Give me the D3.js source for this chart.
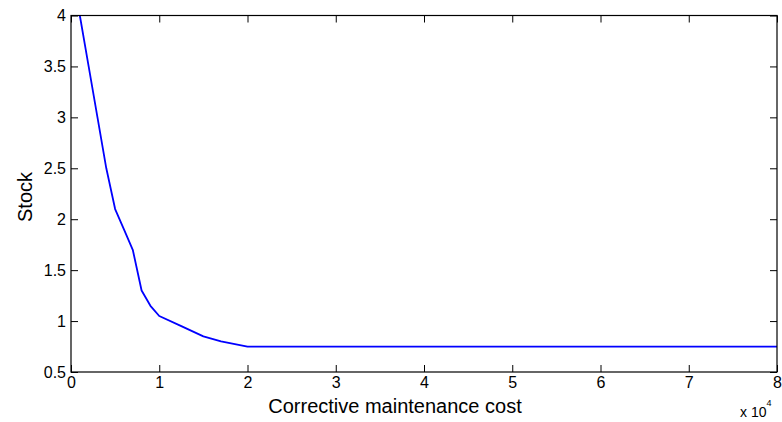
<!DOCTYPE html>
<html>
<head>
<meta charset="utf-8">
<script src="https://cdn.jsdelivr.net/npm/d3@7"></script>
<style>
  html, body { margin: 0; padding: 0; background: #fff; }
  svg { display: block; font-family: "Liberation Sans", Arial, sans-serif; }
</style>
</head>
<body>
<svg id="chart" width="782" height="422"></svg>
<script>
// Data (x in units of 10^4)
const costValues = [0.1, 0.2, 0.3, 0.4, 0.5, 0.6, 0.7, 0.8, 0.9, 1.0, 1.25, 1.5, 1.7, 2.0, 3, 4, 5, 6, 7, 8];
const stockValues = [4.0, 3.5, 3.0, 2.5, 2.1, 1.9, 1.7, 1.3, 1.15, 1.05, 0.95, 0.85, 0.8, 0.75, 0.75, 0.75, 0.75, 0.75, 0.75, 0.75];
const xTicks = [0, 1, 2, 3, 4, 5, 6, 7, 8];
const yTicks = [0.5, 1, 1.5, 2, 2.5, 3, 3.5, 4];
const xLabel = "Corrective maintenance cost";
const yLabel = "Stock";

const svg = d3.select("#chart");
const mLeft = 71, mRight = 777, mTop = 15.5, mBottom = 372;

const x = d3.scaleLinear().domain([0, 8]).range([mLeft, mRight]);
const y = d3.scaleLinear().domain([0.5, 4]).range([mBottom, mTop]);

const tickLen = 7;
const fmt = d => String(d);

svg.append("clipPath").attr("id", "clip")
  .append("rect").attr("x", mLeft).attr("y", mTop).attr("width", mRight - mLeft).attr("height", mBottom - mTop);

const data = costValues.map((c, i) => [c, stockValues[i]]);
svg.append("path")
  .datum(data)
  .attr("clip-path", "url(#clip)")
  .attr("fill", "none")
  .attr("stroke", "#0000ff")
  .attr("stroke-width", 1.8)
  .attr("stroke-linejoin", "round")
  .attr("d", d3.line().x(d => x(d[0])).y(d => y(d[1])));

const styleAxis = g => {
  g.select(".domain").remove();
  g.selectAll(".tick line").attr("stroke", "#000").attr("stroke-width", 1);
  g.selectAll(".tick text").attr("fill", "#000").attr("font-size", 16)
    .attr("font-family", "Liberation Sans, Arial, sans-serif");
};

svg.append("g").attr("transform", `translate(0,${mBottom})`)
  .call(d3.axisBottom(x).tickValues(xTicks).tickFormat(fmt).tickSizeInner(-tickLen).tickSizeOuter(0).tickPadding(5))
  .call(styleAxis);
svg.append("g").attr("transform", `translate(0,${mTop})`)
  .call(d3.axisTop(x).tickValues(xTicks).tickFormat("").tickSizeInner(-tickLen).tickSizeOuter(0))
  .call(styleAxis);
svg.append("g").attr("transform", `translate(${mLeft},0)`)
  .call(d3.axisLeft(y).tickValues(yTicks).tickFormat(fmt).tickSizeInner(-tickLen).tickSizeOuter(0).tickPadding(5))
  .call(styleAxis);
svg.append("g").attr("transform", `translate(${mRight},0)`)
  .call(d3.axisRight(y).tickValues(yTicks).tickFormat("").tickSizeInner(-tickLen).tickSizeOuter(0))
  .call(styleAxis);

svg.append("rect")
  .attr("x", mLeft).attr("y", mTop).attr("width", mRight - mLeft).attr("height", mBottom - mTop)
  .attr("fill", "none").attr("stroke", "#000").attr("stroke-width", 1.2);

svg.append("text")
  .attr("x", 395).attr("y", 413)
  .attr("text-anchor", "middle")
  .attr("font-size", 20)
  .attr("fill", "#000")
  .text(xLabel);

svg.append("text")
  .attr("transform", `translate(32,197) rotate(-90)`)
  .attr("text-anchor", "middle")
  .attr("font-size", 20)
  .attr("fill", "#000")
  .text(yLabel);

const ex = svg.append("text")
  .attr("x", 740).attr("y", 417)
  .attr("font-size", 14)
  .attr("fill", "#000");
ex.append("tspan").text("x 10");
ex.append("tspan").attr("dy", -11).attr("font-size", 9).text("4");
</script>
</body>
</html>
